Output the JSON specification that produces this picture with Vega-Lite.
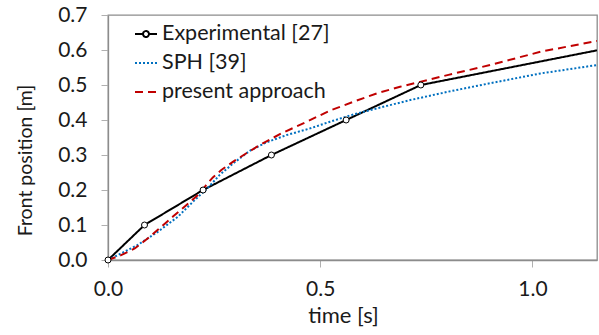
{
  "$schema": "https://vega.github.io/schema/vega-lite/v6.json",
  "width": 489,
  "height": 245,
  "autosize": "none",
  "padding": {"left": 108, "top": 15, "right": 2, "bottom": 75},
  "config": {
    "font": "Lato",
    "view": {"stroke": "#8c8c8c", "strokeWidth": 1.3},
    "axis": {
      "labelFont": "Lato", "titleFont": "Lato",
      "labelFontSize": 21, "titleFontSize": 20,
      "labelColor": "#1a1a1a", "titleColor": "#1a1a1a",
      "titleFontWeight": "normal",
      "domainColor": "#8c8c8c", "tickColor": "#b0b0b0", "domainWidth": 1.3,
      "grid": false, "tickSize": 7, "labelFlush": false
    }
  },
  "data": {
    "values": [
      {"series": "Experimental [27]", "time": 0, "pos": 0},
      {"series": "Experimental [27]", "time": 0.086, "pos": 0.1},
      {"series": "Experimental [27]", "time": 0.224, "pos": 0.2},
      {"series": "Experimental [27]", "time": 0.385, "pos": 0.3},
      {"series": "Experimental [27]", "time": 0.561, "pos": 0.4},
      {"series": "Experimental [27]", "time": 0.737, "pos": 0.5},
      {"series": "Experimental [27]", "time": 1.152, "pos": 0.599},
      {"series": "SPH [39]", "time": 0, "pos": 0},
      {"series": "SPH [39]", "time": 0.015, "pos": 0.009},
      {"series": "SPH [39]", "time": 0.07, "pos": 0.043},
      {"series": "SPH [39]", "time": 0.118, "pos": 0.081},
      {"series": "SPH [39]", "time": 0.165, "pos": 0.124},
      {"series": "SPH [39]", "time": 0.204, "pos": 0.171},
      {"series": "SPH [39]", "time": 0.236, "pos": 0.207},
      {"series": "SPH [39]", "time": 0.263, "pos": 0.243},
      {"series": "SPH [39]", "time": 0.295, "pos": 0.276},
      {"series": "SPH [39]", "time": 0.334, "pos": 0.312},
      {"series": "SPH [39]", "time": 0.373, "pos": 0.336},
      {"series": "SPH [39]", "time": 0.421, "pos": 0.357},
      {"series": "SPH [39]", "time": 0.476, "pos": 0.376},
      {"series": "SPH [39]", "time": 0.523, "pos": 0.395},
      {"series": "SPH [39]", "time": 0.57, "pos": 0.413},
      {"series": "SPH [39]", "time": 0.633, "pos": 0.433},
      {"series": "SPH [39]", "time": 0.712, "pos": 0.457},
      {"series": "SPH [39]", "time": 0.802, "pos": 0.481},
      {"series": "SPH [39]", "time": 0.9, "pos": 0.505},
      {"series": "SPH [39]", "time": 1.019, "pos": 0.533},
      {"series": "SPH [39]", "time": 1.152, "pos": 0.557},
      {"series": "present approach", "time": 0, "pos": 0},
      {"series": "present approach", "time": 0.031, "pos": 0.014},
      {"series": "present approach", "time": 0.063, "pos": 0.033},
      {"series": "present approach", "time": 0.094, "pos": 0.062},
      {"series": "present approach", "time": 0.122, "pos": 0.091},
      {"series": "present approach", "time": 0.153, "pos": 0.124},
      {"series": "present approach", "time": 0.185, "pos": 0.157},
      {"series": "present approach", "time": 0.212, "pos": 0.186},
      {"series": "present approach", "time": 0.228, "pos": 0.209},
      {"series": "present approach", "time": 0.247, "pos": 0.236},
      {"series": "present approach", "time": 0.267, "pos": 0.257},
      {"series": "present approach", "time": 0.295, "pos": 0.281},
      {"series": "present approach", "time": 0.326, "pos": 0.305},
      {"series": "present approach", "time": 0.358, "pos": 0.329},
      {"series": "present approach", "time": 0.409, "pos": 0.362},
      {"series": "present approach", "time": 0.468, "pos": 0.395},
      {"series": "present approach", "time": 0.523, "pos": 0.427},
      {"series": "present approach", "time": 0.578, "pos": 0.452},
      {"series": "present approach", "time": 0.633, "pos": 0.476},
      {"series": "present approach", "time": 0.688, "pos": 0.495},
      {"series": "present approach", "time": 0.735, "pos": 0.509},
      {"series": "present approach", "time": 0.802, "pos": 0.529},
      {"series": "present approach", "time": 0.9, "pos": 0.557},
      {"series": "present approach", "time": 1.019, "pos": 0.595},
      {"series": "present approach", "time": 1.152, "pos": 0.626}
    ]
  },
  "encoding": {
    "x": {
      "field": "time", "type": "quantitative",
      "scale": {"domain": [0, 1.152], "nice": false, "zero": false},
      "axis": {"values": [0, 0.5, 1.0], "format": ".1f", "title": "time [s]", "titleFontSize": 22, "labelPadding": 11, "titlePadding": 6, "titleX": 235}
    },
    "y": {
      "field": "pos", "type": "quantitative",
      "scale": {"domain": [0, 0.7], "nice": false},
      "axis": {"values": [0, 0.1, 0.2, 0.3, 0.4, 0.5, 0.6, 0.7], "format": ".1f", "title": "Front position [m]", "titleFontSize": 19.5, "labelPadding": 14, "titlePadding": 22, "titleY": 145}
    }
  },
  "layer": [
    {
      "mark": {"type": "line", "clip": true},
      "encoding": {
        "color": {
          "field": "series", "type": "nominal",
          "scale": {"domain": ["Experimental [27]", "SPH [39]", "present approach"], "range": ["#000000", "#0070C0", "#C00000"]},
          "legend": {
            "title": null, "orient": "none", "legendX": 26, "legendY": 7,
            "labelFont": "Lato", "labelFontSize": 21.5, "labelColor": "#1a1a1a",
            "symbolType": "stroke", "symbolSize": 484, "symbolStrokeWidth": 2,
            "rowPadding": 6, "labelOffset": 4, "labelLimit": 300,
            "encode": {
              "symbols": {
                "update": {
                  "shape": {"signal": "datum.value === 'Experimental [27]' ? 'M-1,0H-0.27M0.27,0A0.27,0.27,0,1,1,-0.27,0A0.27,0.27,0,1,1,0.27,0M0.27,0H1' : 'stroke'"}
                }
              }
            }
          }
        },
        "strokeDash": {
          "field": "series", "type": "nominal",
          "scale": {"domain": ["Experimental [27]", "SPH [39]", "present approach"], "range": [[1, 0], [2, 2], [8, 5]]},
          "legend": null
        },
        "strokeWidth": {
          "field": "series", "type": "nominal",
          "scale": {"domain": ["Experimental [27]", "SPH [39]", "present approach"], "range": [2, 2, 2.6]},
          "legend": null
        }
      }
    },
    {
      "transform": [{"filter": "datum.series === 'Experimental [27]' && datum.time < 1.1"}],
      "mark": {"type": "point", "shape": "circle", "filled": true, "fill": "white", "stroke": "#000000", "strokeWidth": 1, "size": 36, "opacity": 1}
    }
  ]
}
